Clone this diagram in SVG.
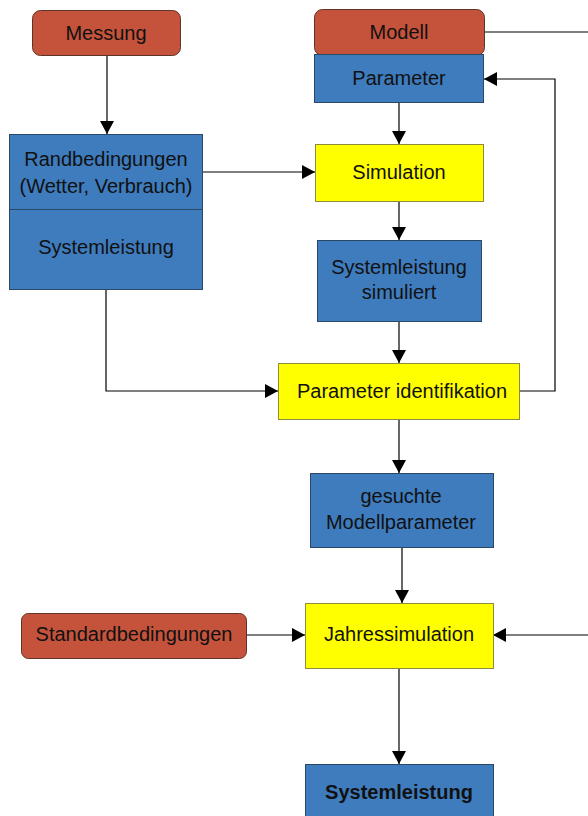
<svg xmlns="http://www.w3.org/2000/svg" width="588" height="816" viewBox="0 0 588 816">
<style>
text{font-family:"Liberation Sans",Arial,sans-serif;font-size:20px;fill:#111;text-anchor:middle}
.red{fill:#C5533C;stroke:#5E3428;stroke-width:1}
.blue{fill:#3E7CBE;stroke:#2B4866;stroke-width:1}
.yel{fill:#FFFF00;stroke:#8C8C3C;stroke-width:1}
.c{fill:none;stroke:#000;stroke-width:1.2}
.b{font-weight:bold}
</style>
<defs>
<marker id="ah" markerUnits="userSpaceOnUse" markerWidth="14" markerHeight="14" refX="13" refY="7" orient="auto">
<path d="M0,0 L13,7 L0,14 Z" fill="#000"/>
</marker>
</defs>
<rect width="588" height="816" fill="#fff"/>
<g id="connectors">
<path class="c" d="M107,55 V134" marker-end="url(#ah)"/>
<path class="c" d="M484,32 H588"/>
<path class="c" d="M519,391 H555 V79 H484" marker-end="url(#ah)"/>
<path class="c" d="M399,103 V144" marker-end="url(#ah)"/>
<path class="c" d="M203,172 H315" marker-end="url(#ah)"/>
<path class="c" d="M399,201 V240" marker-end="url(#ah)"/>
<path class="c" d="M399,322 V363" marker-end="url(#ah)"/>
<path class="c" d="M106,289 V391 H278" marker-end="url(#ah)"/>
<path class="c" d="M399,419 V473" marker-end="url(#ah)"/>
<path class="c" d="M402,547 V603" marker-end="url(#ah)"/>
<path class="c" d="M246,635 H305" marker-end="url(#ah)"/>
<path class="c" d="M588,635 H493" marker-end="url(#ah)"/>
<path class="c" d="M399,668 V764" marker-end="url(#ah)"/>
</g>
<g id="messung">
<rect class="red" x="32.5" y="10.5" width="148" height="45" rx="8"/>
<text x="106" y="39.5">Messung</text>
</g>
<g id="modell">
<rect class="red" x="314.5" y="9.5" width="170" height="46" rx="8"/>
<text x="399" y="39">Modell</text>
</g>
<g id="parameter">
<rect class="blue" x="314.5" y="54.5" width="169" height="48"/>
<text x="399" y="85">Parameter</text>
</g>
<g id="randbedingungen">
<rect class="blue" x="9.5" y="134.5" width="193" height="155"/>
<line x1="9.5" y1="209.5" x2="202.5" y2="209.5" stroke="#2B4866" stroke-width="1.2"/>
<text x="106" y="166">Randbedingungen</text>
<text x="106" y="193">(Wetter, Verbrauch)</text>
<text x="106" y="254">Systemleistung</text>
</g>
<g id="simulation">
<rect class="yel" x="315.5" y="144.5" width="168" height="57"/>
<text x="399" y="179">Simulation</text>
</g>
<g id="systemleistung-simuliert">
<rect class="blue" x="317.5" y="240.5" width="164" height="81"/>
<text x="399" y="274">Systemleistung</text>
<text x="399" y="299">simuliert</text>
</g>
<g id="parameter-identifikation">
<rect class="yel" x="278.5" y="363.5" width="241" height="56"/>
<text x="402" y="398">Parameter identifikation</text>
</g>
<g id="gesuchte-modellparameter">
<rect class="blue" x="310.5" y="473.5" width="183" height="74"/>
<text x="401" y="503">gesuchte</text>
<text x="401" y="529">Modellparameter</text>
</g>
<g id="standardbedingungen">
<rect class="red" x="21.5" y="613.5" width="225" height="45" rx="7"/>
<text x="134" y="641">Standardbedingungen</text>
</g>
<g id="jahressimulation">
<rect class="yel" x="305.5" y="603.5" width="188" height="65"/>
<text x="399" y="641">Jahressimulation</text>
</g>
<g id="systemleistung-ergebnis">
<rect class="blue" x="305.5" y="764.5" width="188" height="70"/>
<text class="b" x="399" y="799">Systemleistung</text>
</g>
</svg>
